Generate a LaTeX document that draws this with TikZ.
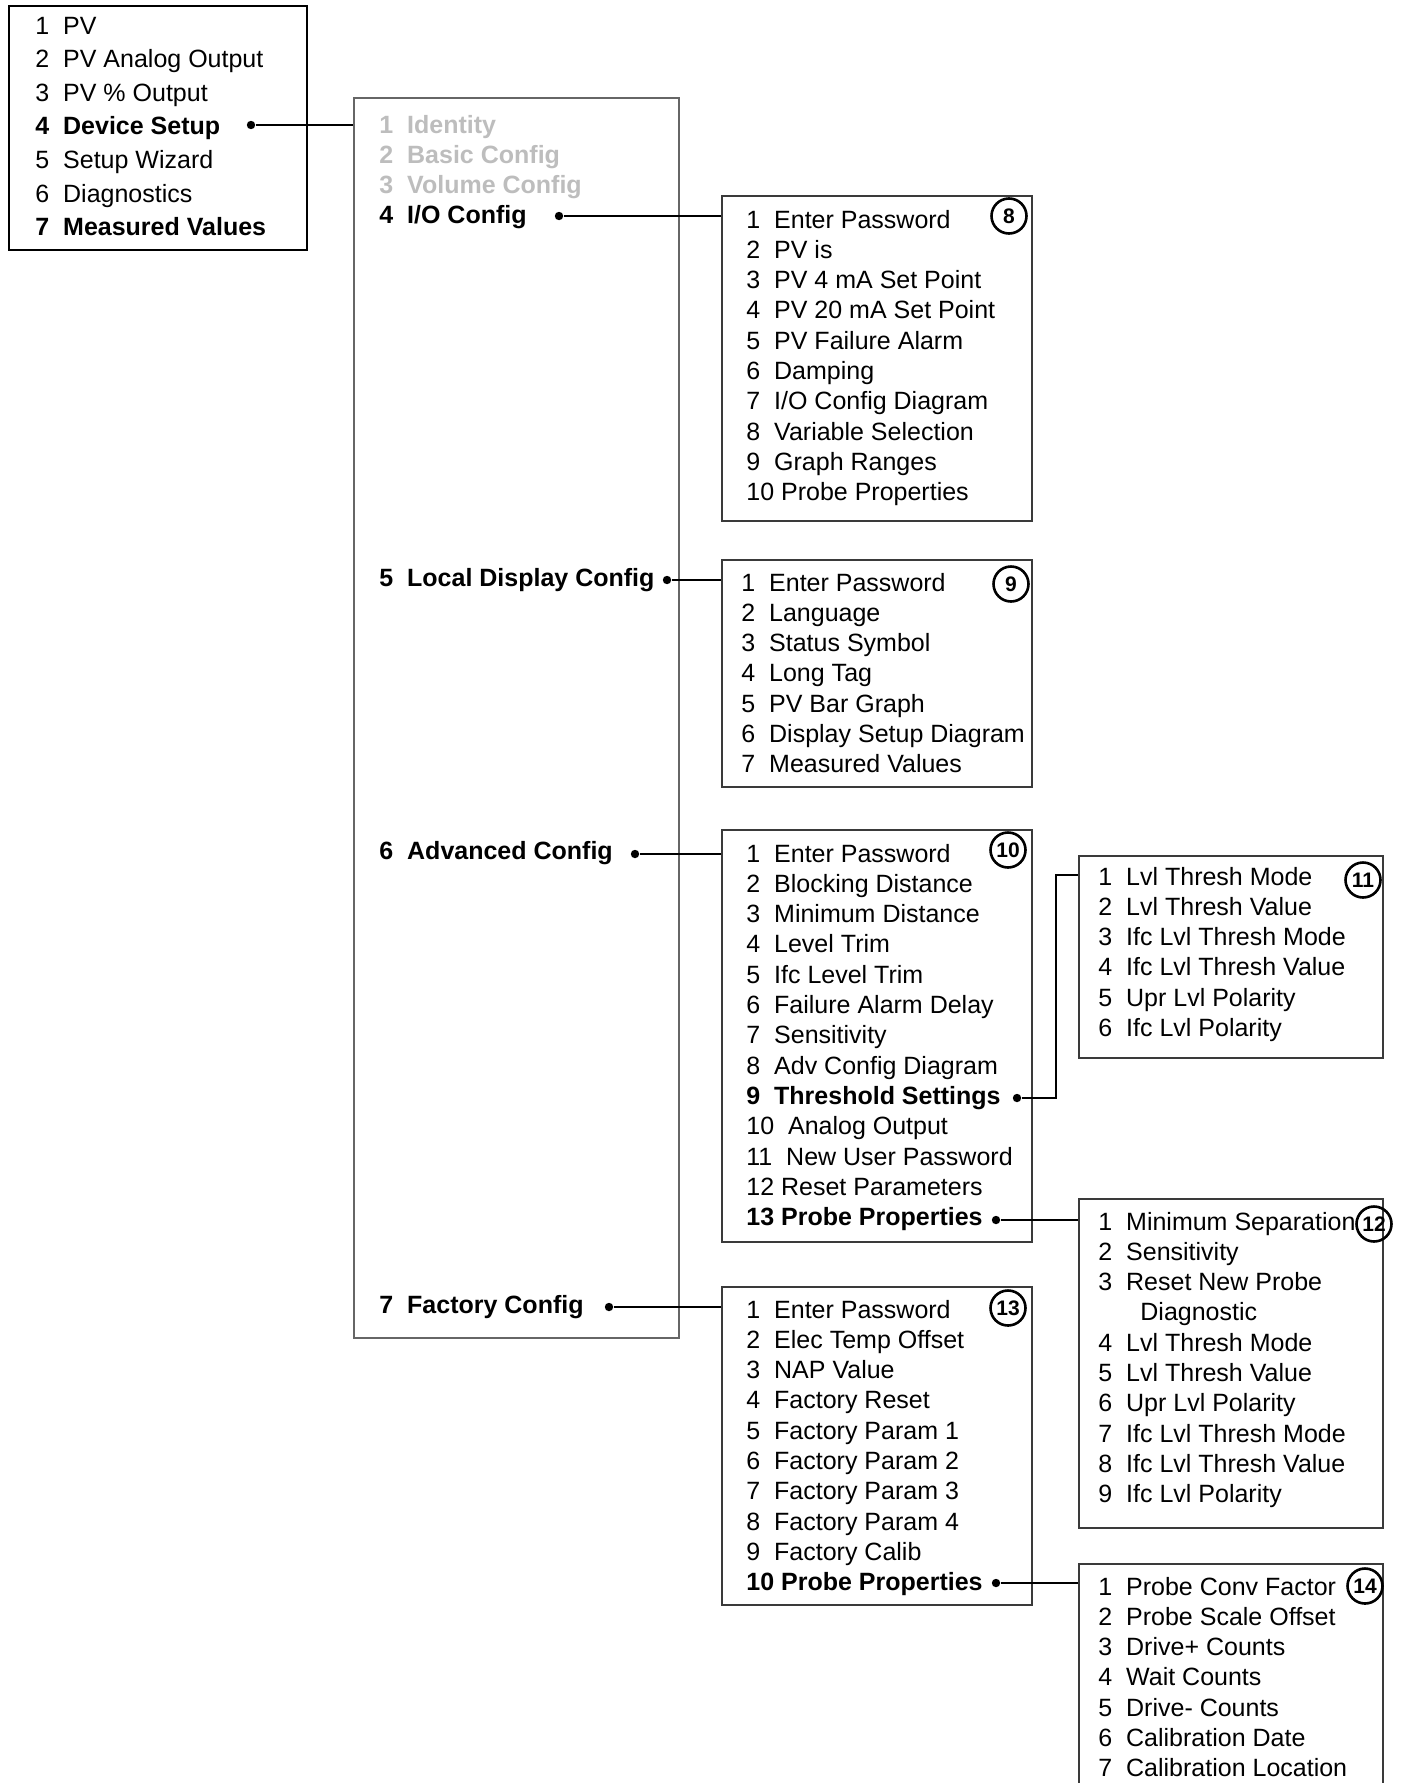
\documentclass[tikz,border=0pt]{standalone}
\usepackage{fontspec}
\setmainfont{Liberation Sans}
\usetikzlibrary{fit}
\definecolor{greytext}{HTML}{BDBDBD}
\definecolor{boxline}{HTML}{3A3A3A}
\newcommand\menulist[5]{%
  \foreach \t [count=\i] in {#5} {\node[item] (#1-\i) at (#2, {#3+(\i-1)*#4+9}) {\t};}}
\begin{document}
\begin{tikzpicture}[x=0.5pt,y=-0.5pt,
  box/.style={draw=boxline, line width=0.6pt, inner sep=0pt},
  item/.style={anchor=base west, inner sep=0pt, font=\fontsize{12.5}{15}\selectfont},
  dotnode/.style={circle, fill=black, inner sep=0pt, minimum size=4.2pt},
  conn/.style={draw=black, line width=0.6pt},
  badge/.style={circle, draw=black, fill=white, line width=1.3pt, inner sep=0pt, minimum size=17.5pt, font=\fontsize{10.5}{12}\selectfont\bfseries}]
\useasboundingbox (0,0) rectangle (1405,1783);
% boxes
\node[box, draw=black, fit={(9,6) (307,250)}] (bA) {};
\node[box, draw=gray!80!black, fit={(354,98) (679,1338)}] (bB) {};
\node[box, fit={(722,196) (1032,521)}] (b8) {};
\node[box, fit={(722,560) (1032,787)}] (b9) {};
\node[box, fit={(722,830) (1032,1242)}] (b10) {};
\node[box, fit={(1079,856) (1383,1058)}] (b11) {};
\node[box, fit={(1079,1199) (1383,1528)}] (b12) {};
\node[box, fit={(722,1287) (1032,1605)}] (b13) {};
\node[box, fit={(1079,1564) (1383,1810)}] (b14) {};
% box A
\menulist{a}{35}{25}{33.6}{1~~PV, 2~~PV Analog Output, 3~~PV \% Output, \textbf{4~~Device Setup}, 5~~Setup Wizard, 6~~Diagnostics, \textbf{7~~Measured Values}}
% box B
\menulist{bb}{379}{124}{30.3}{{\color{greytext}\textbf{1~~Identity}}, {\color{greytext}\textbf{2~~Basic Config}}, {\color{greytext}\textbf{3~~Volume Config}}, \textbf{4~~I/O Config}}
\node[item] (bb-5) at (379,{577+9}) {\textbf{5~~Local Display Config}};
\node[item] (bb-6) at (379,{850+9}) {\textbf{6~~Advanced Config}};
\node[item] (bb-7) at (379,{1304+9}) {\textbf{7~~Factory Config}};
% box 8
\menulist{e}{746}{219}{30.3}{1~~Enter Password, 2~~PV is, 3~~PV 4 mA Set Point, 4~~PV 20 mA Set Point, 5~~PV Failure Alarm, 6~~Damping, 7~~I/O Config Diagram, 8~~Variable Selection, 9~~Graph Ranges, 10 Probe Properties}
% box 9
\menulist{n}{741}{582}{30.3}{1~~Enter Password, 2~~Language, 3~~Status Symbol, 4~~Long Tag, 5~~PV Bar Graph, 6~~Display Setup Diagram, 7~~Measured Values}
% box 10
\menulist{t}{746}{853}{30.3}{1~~Enter Password, 2~~Blocking Distance, 3~~Minimum Distance, 4~~Level Trim, 5~~Ifc Level Trim, 6~~Failure Alarm Delay, 7~~Sensitivity, 8~~Adv Config Diagram, \textbf{9~~Threshold Settings}, 10~~Analog Output, 11~~New User Password, 12 Reset Parameters, \textbf{13 Probe Properties}}
% box 11
\menulist{el}{1098}{876}{30.3}{1~~Lvl Thresh Mode, 2~~Lvl Thresh Value, 3~~Ifc Lvl Thresh Mode, 4~~Ifc Lvl Thresh Value, 5~~Upr Lvl Polarity, 6~~Ifc Lvl Polarity}
% box 12
\menulist{tw}{1098}{1221}{30.3}{1~~Minimum Separation, 2~~Sensitivity, 3~~Reset New Probe, \hspace*{21pt}Diagnostic, 4~~Lvl Thresh Mode, 5~~Lvl Thresh Value, 6~~Upr Lvl Polarity, 7~~Ifc Lvl Thresh Mode, 8~~Ifc Lvl Thresh Value, 9~~Ifc Lvl Polarity}
% box 13
\menulist{th}{746}{1309}{30.3}{1~~Enter Password, 2~~Elec Temp Offset, 3~~NAP Value, 4~~Factory Reset, 5~~Factory Param 1, 6~~Factory Param 2, 7~~Factory Param 3, 8~~Factory Param 4, 9~~Factory Calib, \textbf{10 Probe Properties}}
% box 14
\menulist{fo}{1098}{1586}{30.3}{1~~Probe Conv Factor, 2~~Probe Scale Offset, 3~~Drive+ Counts, 4~~Wait Counts, 5~~Drive- Counts, 6~~Calibration Date, 7~~Calibration Location}
% badges
\node[badge] (c8) at (1009,216) {8};
\node[badge] (c9) at (1011,584) {9};
\node[badge] (c10) at (1008,850) {10};
\node[badge] (c11) at (1363,880) {11};
\node[badge, fill=none] (c12) at (1374,1224) {12};
\node[badge] (c13) at (1008,1308) {13};
\node[badge] (c14) at (1365,1586) {14};
% dots
\node[dotnode] (d0) at (251,125) {};
\node[dotnode] (dIO) at (559,216) {};
\node[dotnode] (dLD) at (667,580) {};
\node[dotnode] (dAC) at (635,854) {};
\node[dotnode] (dFC) at (609,1307) {};
\node[dotnode] (dTS) at (1017,1098) {};
\node[dotnode] (dP13) at (996,1220) {};
\node[dotnode] (dP10) at (996,1583) {};
\coordinate (tsb) at (1056,875);
% connectors
\draw[conn] (d0) -- (bB.west |- d0);
\draw[conn] (dIO) -- (b8.west |- dIO);
\draw[conn] (dLD) -- (b9.west |- dLD);
\draw[conn] (dAC) -- (b10.west |- dAC);
\draw[conn] (dFC) -- (b13.west |- dFC);
\draw[conn] (dTS) -| (tsb) -- (b11.west |- tsb);
\draw[conn] (dP13) -- (b12.west |- dP13);
\draw[conn] (dP10) -- (b14.west |- dP10);
\end{tikzpicture}
\end{document}
